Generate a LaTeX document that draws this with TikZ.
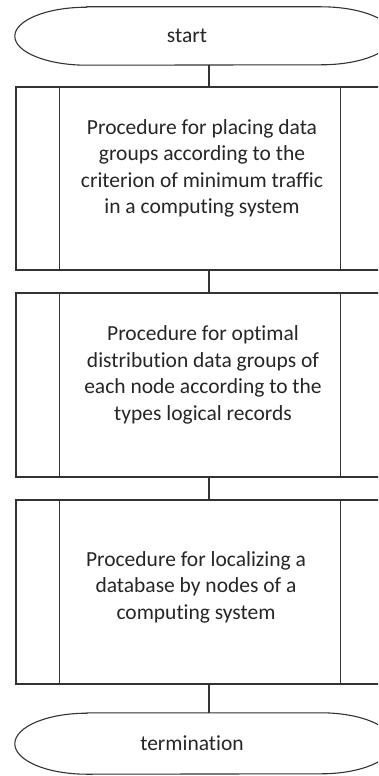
\documentclass[tikz,border=0pt]{standalone}
\usepackage{fontspec}
\setmainfont{Carlito}[Ligatures=NoCommon]
\begin{document}
\begin{tikzpicture}[x=1pt,y=1pt,
  line/.style={draw=black!80, line width=1.1pt},
  lbl/.style={text=black!85, font=\fontsize{21.5}{26.5}\selectfont, align=center, inner sep=0pt},
  term/.style={rectangle, minimum width=378pt, inner sep=0pt, text=black!85, font=\fontsize{21.5}{26.5}\selectfont},
  proc/.style={rectangle, line, minimum width=368pt, minimum height=184pt, inner sep=0pt}]
\path[use as bounding box, clip] (0,0) rectangle (378,-776);
\fill[white] (0,0) rectangle (378,-776);
\coordinate (ax) at (209,0);
% terminals
\node[term, minimum height=58pt] (start) at (204,-36) {\hspace*{-34pt}start};
\node[term, minimum height=61pt] (stop) at (204,-743.5) {\hspace*{-24pt}termination};
\foreach \n/\r in {start/29, stop/30.5}{
  \draw[line] ([xshift=72pt]\n.north west) -- ([xshift=-72pt]\n.north east)
    arc[start angle=90, end angle=-90, x radius=72pt, y radius=\r pt]
    -- ([xshift=72pt]\n.south west)
    arc[start angle=270, end angle=90, x radius=72pt, y radius=\r pt] -- cycle;
}
% procedure boxes
\node[proc, minimum height=183pt] (b1) at (200,-178.5) {};
\node[proc] (b2) at (200,-385) {};
\node[proc] (b3) at (200,-592) {};
\foreach \b in {b1,b2,b3}{
  \draw[line] ([xshift=44pt]\b.north west) -- ([xshift=44pt]\b.south west);
  \draw[line] ([xshift=-44pt]\b.north east) -- ([xshift=-44pt]\b.south east);
}
\node[lbl] (t1) at (202,-168.5) {Procedure for placing data\\groups according to the\\criterion of minimum traffic\\in a computing system};
\node[lbl] (t2) at (203,-375) {Procedure for optimal\\distribution data groups of\\each node according to the\\types logical records};
\node[lbl] (t3) at (196,-587) {Procedure for localizing a\\database by nodes of a\\computing system};
% connectors
\draw[line] (start.south -| ax) -- (b1.north -| ax);
\draw[line] (b1.south -| ax) -- (b2.north -| ax);
\draw[line] (b2.south -| ax) -- (b3.north -| ax);
\draw[line] (b3.south -| ax) -- (stop.north -| ax);
\end{tikzpicture}
\end{document}
